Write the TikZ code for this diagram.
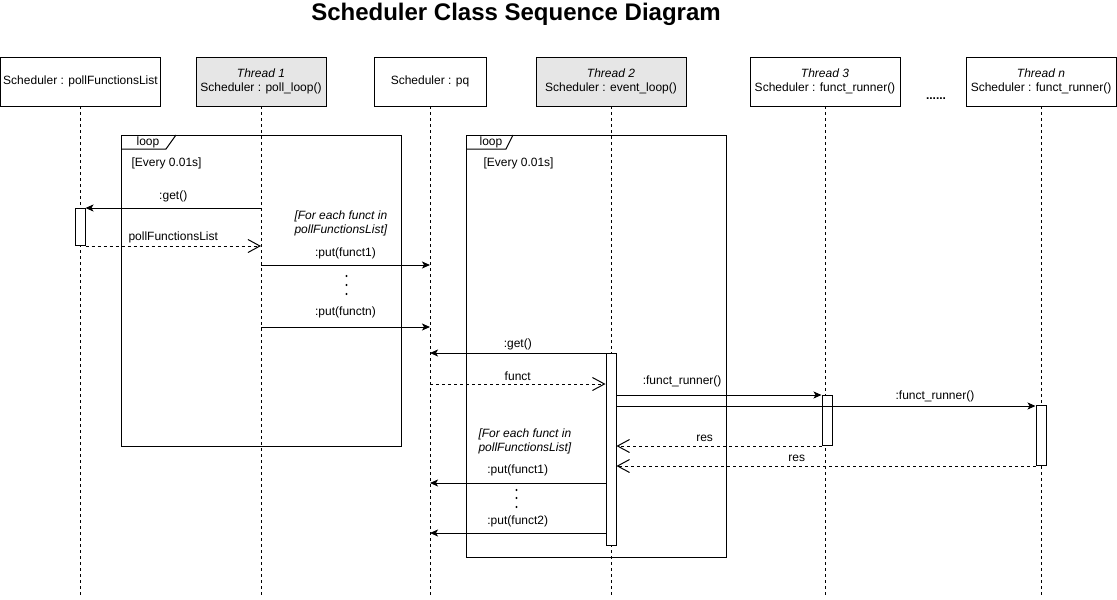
\documentclass[tikz,border=0pt]{standalone}
\usepackage{fontspec}
\setmainfont{Liberation Sans}
\usetikzlibrary{arrows.meta,positioning}
\definecolor{headgray}{HTML}{E6E6E6}

\begin{document}
\begin{tikzpicture}[
  x=1pt, y=-1pt, line width=1pt,
  font=\fontsize{12}{14}\selectfont,
  head/.style={draw, minimum height=49pt, align=center, inner sep=1pt,
    outer sep=0pt, anchor=north west},
  thread/.style={head, fill=headgray},
  life/.style={dash pattern=on 3pt off 3pt},
  frame/.style={draw, anchor=north west, inner sep=0pt},
  act/.style={draw, fill=white, minimum width=10pt, inner sep=0pt, anchor=north},
  call/.style={-{Stealth[length=8pt,width=7pt,inset=2pt]}},
  ret/.style={dash pattern=on 3pt off 3pt, -{Straight Barb[length=12pt,width=13pt]}},
  lbl/.style={inner sep=1pt},
  guard/.style={align=left, inner sep=1pt, anchor=west,
    font=\fontsize{12}{14}\selectfont\itshape}
]
\useasboundingbox (0,0) rectangle (1117,600);
\node[font=\fontsize{24}{28}\selectfont\bfseries] (title) at (516,14)
  {Scheduler Class Sequence Diagram};

\node[head, minimum width=160pt] (plist) at (0.5,57) {Scheduler : pollFunctionsList};
\node[thread, minimum width=130pt] (t1) at (196,57)
  {\textit{Thread 1}\\Scheduler : poll\_loop()};
\node[head, minimum width=112pt] (pq) at (374,57) {Scheduler : pq};
\node[thread, minimum width=150pt] (t2) at (536,57)
  {\textit{Thread 2}\\Scheduler : event\_loop()};
\node[head, minimum width=150pt] (t3) at (750,57)
  {\textit{Thread 3}\\Scheduler : funct\_runner()};
\node[head, minimum width=150pt] (tn) at (966,57)
  {\textit{Thread n}\\Scheduler : funct\_runner()};
\node[lbl, font=\fontsize{12}{14}\selectfont\bfseries] (gap) at (936,99) {......};

\coordinate (bottom) at (0,597);
\foreach \h in {plist,t1,pq,t2,t3,tn}
  \draw[life] (\h.south) -- (\h.south |- bottom);

\node[frame, minimum width=280pt, minimum height=311pt] (loopA) at (121,135) {};
\draw (loopA.north west) ++(0,14) -- ++(45,0) -- ++(10,-14);
\node[lbl] (loopAtag) at (148,142) {loop};
\node[lbl, anchor=west] (everyA) at (130,163) {[Every 0.01s]};

\node[frame, minimum width=260pt, minimum height=422pt] (loopB) at (466,135) {};
\draw (loopB.north west) ++(0,14) -- ++(40,0) -- ++(7,-14);
\node[lbl] (loopBtag) at (491,142) {loop};
\node[lbl, anchor=west] (everyB) at (482,163) {[Every 0.01s]};

\node[act, minimum height=37pt] (actL) at (80,208) {};
\node[act, minimum height=192pt] (act2) at (611,353) {};
\node[act, minimum height=50pt] (act3) at (827,395) {};
\node[act, minimum height=60pt] (actn) at (1041,405) {};

\coordinate (yput1) at (0,265);
\coordinate (yputn) at (0,327);
\coordinate (yfunct) at (0,384);
\coordinate (yrunn) at (0,406);
\coordinate (yput2a) at (0,483);
\coordinate (yput2b) at (0,533);

\draw[call] (t1.south |- actL.north) -- node[lbl, yshift=12pt] {:get()} (actL.north east);
\draw[ret] (actL.south east) -- node[lbl, yshift=9pt] {pollFunctionsList}
  (actL.south east -| t1.south);
\node[guard] (forA) at (293,223) {[For each funct in\\pollFunctionsList]};
\draw[call] (t1.south |- yput1) -- node[lbl, yshift=12pt] {:put(funct1)} (pq.south |- yput1);
\foreach \y in {276,285,294}
  \fill (346.5,\y) circle (1.2pt);
\draw[call] (t1.south |- yputn) -- node[lbl, yshift=15pt] {:put(functn)} (pq.south |- yputn);

\draw[call] (act2.north west) -- node[lbl, yshift=9pt] {:get()} (pq.south |- act2.north);
\draw[ret] (pq.south |- yfunct) -- node[lbl, yshift=8pt] {funct} (act2.west |- yfunct);
\draw[call] (act2.east |- act3.north) -- node[lbl, pos=0.32, yshift=14pt] {:funct\_runner()}
  (act3.north west);
\draw[call] (act2.east |- yrunn) -- node[lbl, pos=0.76, yshift=10pt] {:funct\_runner()}
  (actn.west |- yrunn);
\draw[ret] (act3.south west) -- node[lbl, pos=0.57, yshift=8pt] {res} (act2.east |- act3.south);
\draw[ret] (actn.south west) -- node[lbl, pos=0.57, yshift=8pt] {res} (act2.east |- actn.south);

\node[guard] (forB) at (477,441) {[For each funct in\\pollFunctionsList]};
\draw[call] (act2.west |- yput2a) -- node[lbl, yshift=13pt] {:put(funct1)} (pq.south |- yput2a);
\foreach \y in {490,498,507}
  \fill (516.5,\y) circle (1.2pt);
\draw[call] (act2.west |- yput2b) -- node[lbl, yshift=12pt] {:put(funct2)} (pq.south |- yput2b);
\end{tikzpicture}
\end{document}
